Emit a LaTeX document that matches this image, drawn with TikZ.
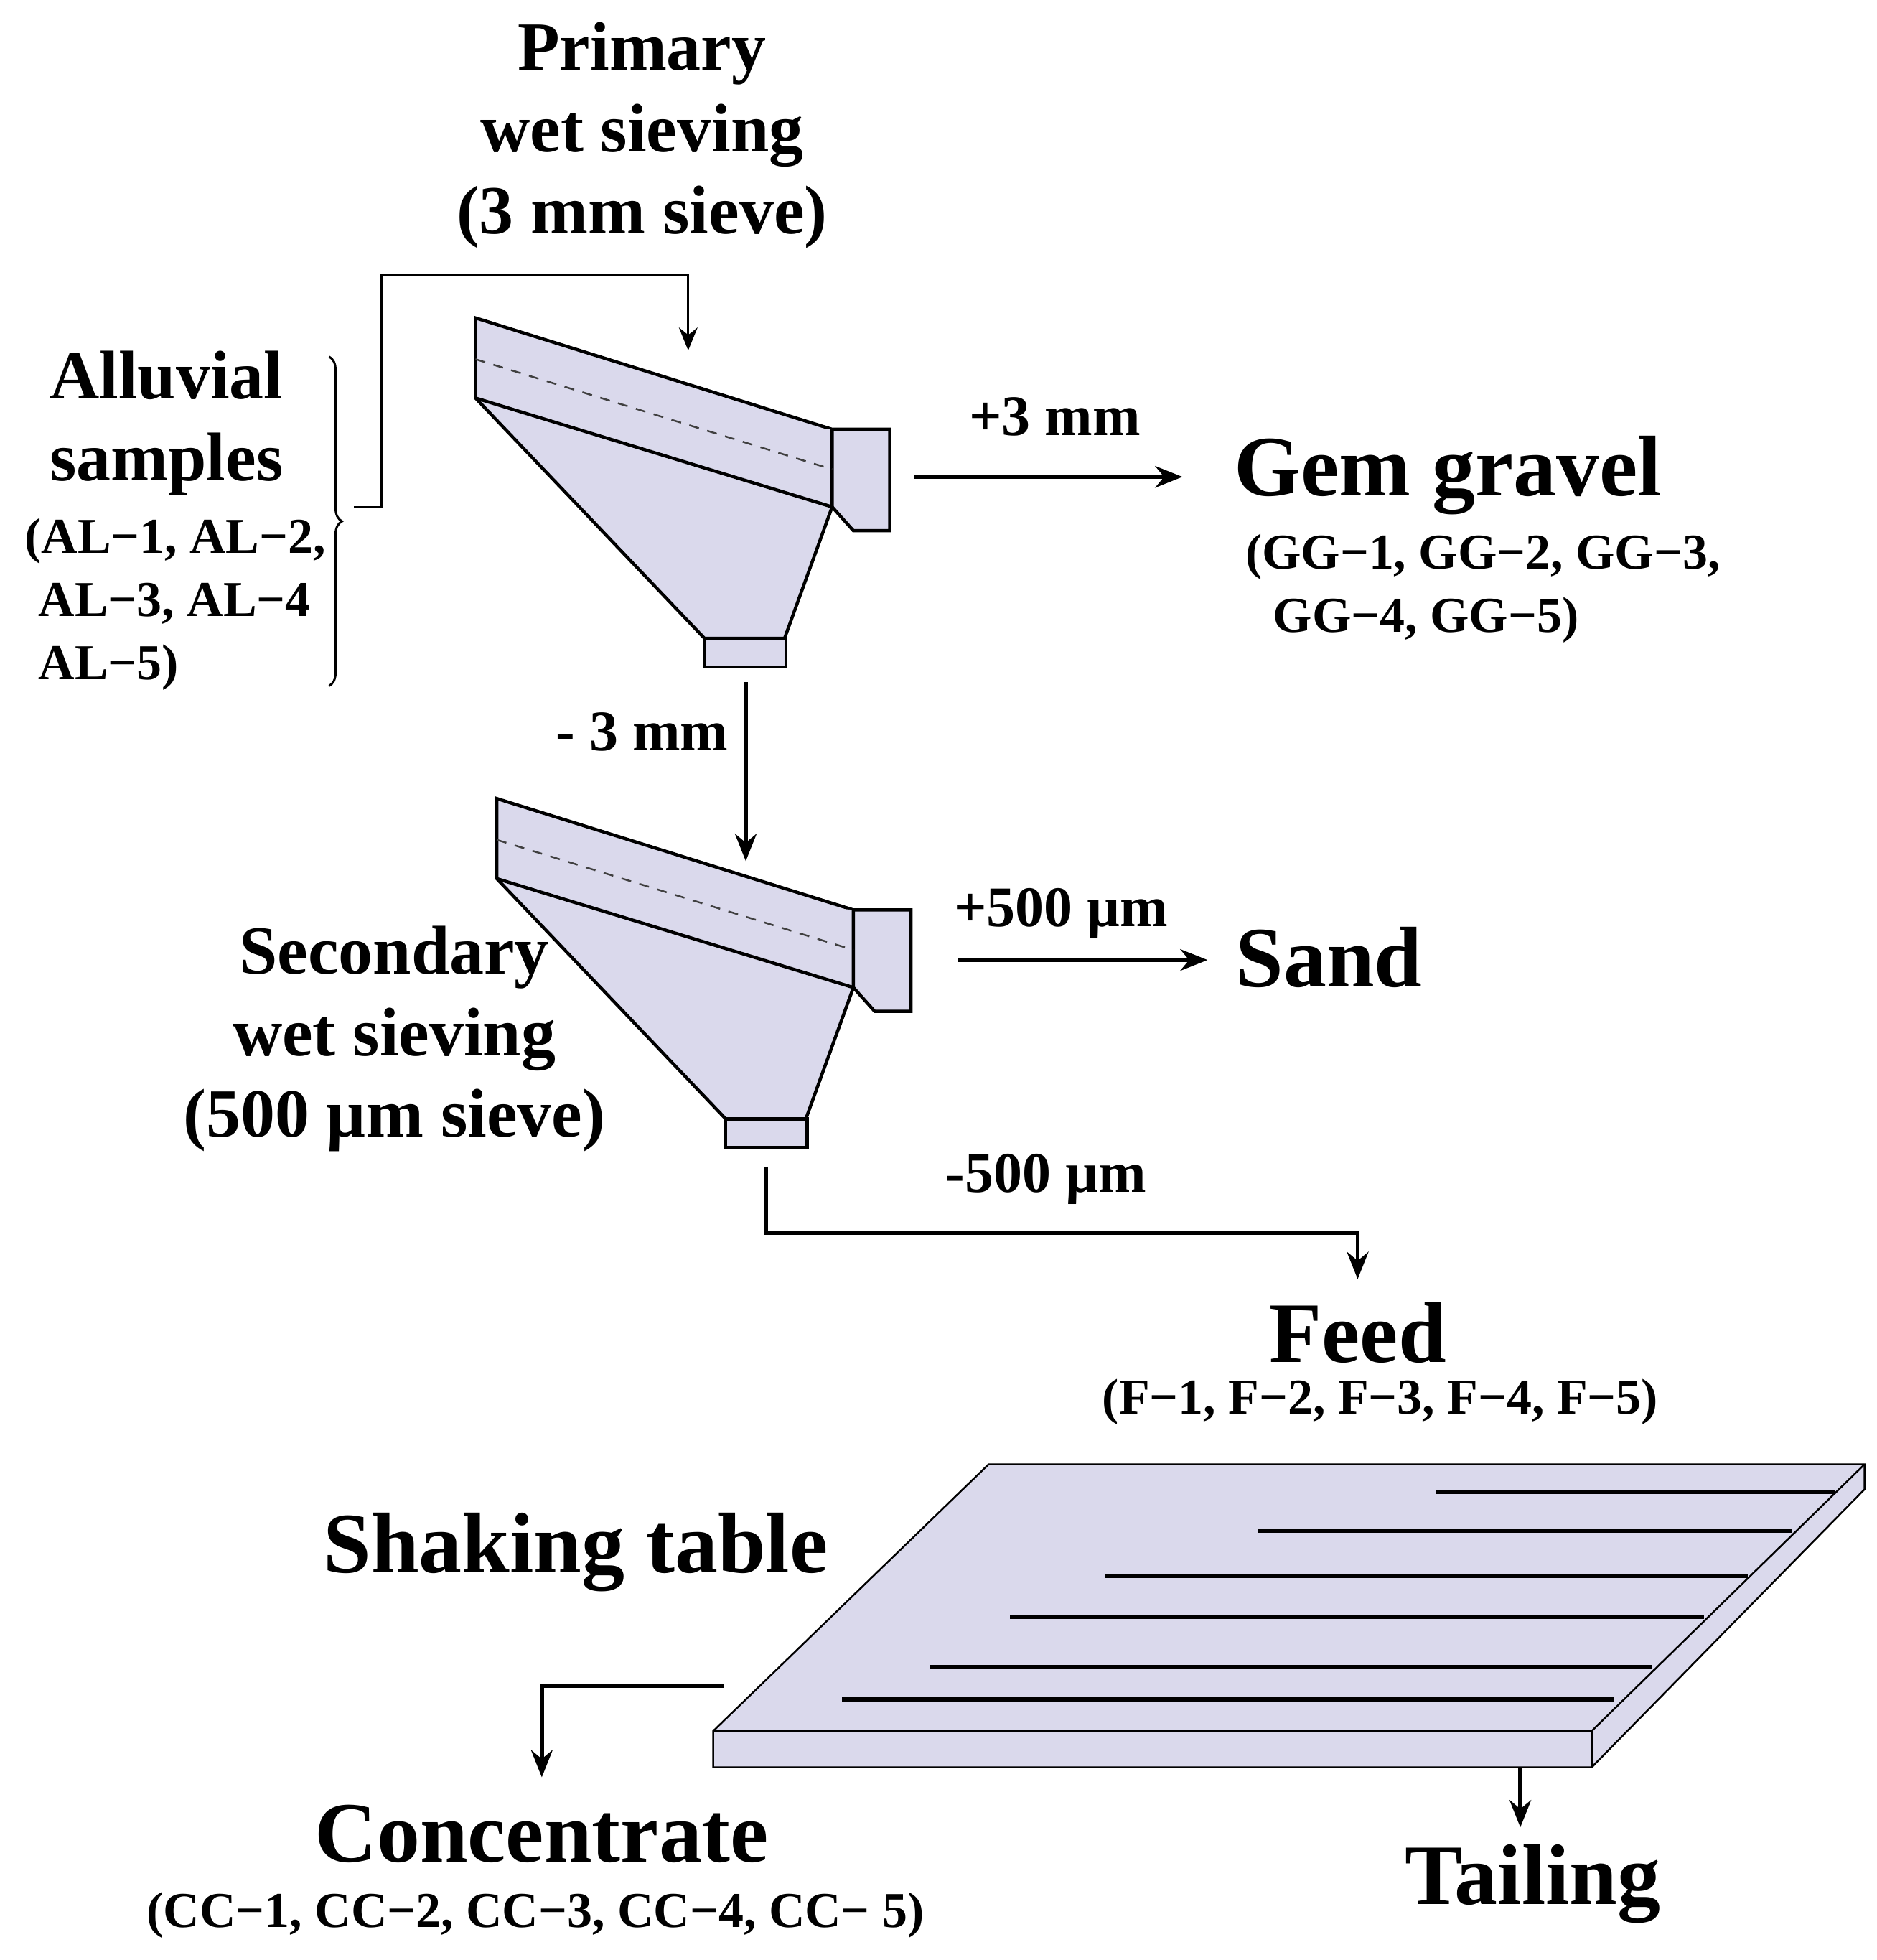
\documentclass[tikz,border=0pt]{standalone}
\usepackage{fontspec}
\setmainfont{Liberation Serif}
\usetikzlibrary{arrows.meta,decorations.pathreplacing}
\definecolor{fillc}{RGB}{218,217,236}
\begin{document}
\begin{tikzpicture}[x=1.745pt,y=-1.745pt,
  shape line/.style={draw=black,line width=4.5pt,fill=fillc,line join=miter},
  arr/.style={line width=5.5pt,-{Stealth[length=38pt,width=30pt]}},
  big/.style={font=\fontsize{120}{130}\selectfont\bfseries},
  med/.style={font=\fontsize{96}{114}\selectfont\bfseries,align=center},
  sm/.style={font=\fontsize{70}{88}\selectfont\bfseries,align=center},
  lab/.style={font=\fontsize{80}{90}\selectfont\bfseries}]
\useasboundingbox (0,0) rectangle (1500,1566);
\newcommand{\sieve}[2]{%
\begin{scope}[shift={(#1,#2)}]
 \draw[shape line] (0,0) -- (285,89) -- (331,89) -- (331,170) -- (302,170) -- (285,151) -- (247,256) -- (183,256) -- (0,64) -- cycle;
 \draw[shape line] (0,64) -- (285,151) -- (285,89);
 \draw[shape line] (183,256) rectangle (248,279);
 \draw[line width=2.5pt,gray!50!black,dash pattern=on 14pt off 12pt] (0,33) -- (285,121);
\end{scope}}
\sieve{380}{254}
\sieve{397}{638}
% texts
\node[med] (prim) at (513,108) {Primary\\wet sieving\\(3 mm sieve)};
\node[med] (allu) at (133,338) {Alluvial\\samples};
\node[sm,align=left] (alc) at (140,483) {(AL−1, AL−2,\\\;AL−3, AL−4\\\;AL−5)};
\draw[decorate,decoration={brace,amplitude=18pt},line width=3pt] (263,285) -- (263,548);
\coordinate (br) at (283,405);
\coordinate (p1) at (550,280);
\draw[line width=3pt,-{Stealth[length=32pt,width=26pt]}] (br) -- (305,405) -- (305,220) -- (550,220) -- (p1);
\coordinate (g1) at (730,381); \coordinate (g2) at (945,381);
\draw[arr] (g1) -- (g2);
\node[lab] at (843,333) {+3 mm};
\node[big] (gem) at (1157,380) {Gem gravel};
\node[sm,align=left] (gemc) at (1185,470) {(GG−1, GG−2, GG−3,\\\;\;GG−4, GG−5)};
\coordinate (d1) at (596,545); \coordinate (d2) at (596,688);
\draw[arr] (d1) -- (d2);
\node[lab] at (513,585) {- 3 mm};
\coordinate (s1) at (765,767); \coordinate (s2) at (965,767);
\draw[arr] (s1) -- (s2);
\node[lab] at (848,730) {+500 µm};
\node[big] (sand) at (1062,765) {Sand};
\node[med] (sec) at (315,830) {Secondary\\wet sieving\\(500 µm sieve)};
\coordinate (f0) at (612,932); \coordinate (f1) at (1085,1022);
\draw[arr] (f0) -- (612,985) -- (1085,985) -- (f1);
\node[lab] at (836,942) {-500 µm};
\node[big] (feed) at (1085,1065) {Feed};
\node[sm] (feedc) at (1103,1120) {(F−1, F−2, F−3, F−4, F−5)};
% table
\draw[draw=black,line width=2.5pt,fill=fillc] (790,1170) -- (1490,1170) -- (1490,1190) -- (1272,1412) -- (570,1412) -- (570,1383) -- cycle;
\draw[line width=2.5pt] (570,1383) -- (1272,1383) -- (1490,1170);
\draw[line width=2.5pt] (1272,1383) -- (1272,1412);
\foreach \y/\a/\b in {1192/1148/1467,1223/1005/1432,1259/883/1397,1292/807/1362,1332/743/1320,1358/673/1290}
  \draw[line width=6pt] (\a,\y) -- (\b,\y);
\node[font=\fontsize{120}{130}\selectfont\bfseries] (shk) at (460,1240) {Shaking table};
\coordinate (c0) at (578,1347); \coordinate (c1) at (433,1420);
\draw[arr] (c0) -- (433,1347) -- (c1);
\coordinate (t0) at (1215,1412); \coordinate (t1) at (1215,1460);
\draw[arr] (t0) -- (t1);
\node[big] (conc) at (433,1465) {Concentrate};
\node[sm] (concc) at (428,1530) {(CC−1, CC−2, CC−3, CC−4, CC− 5)};
\node[big] (tail) at (1225,1505) {Tailing};
\end{tikzpicture}
\end{document}
